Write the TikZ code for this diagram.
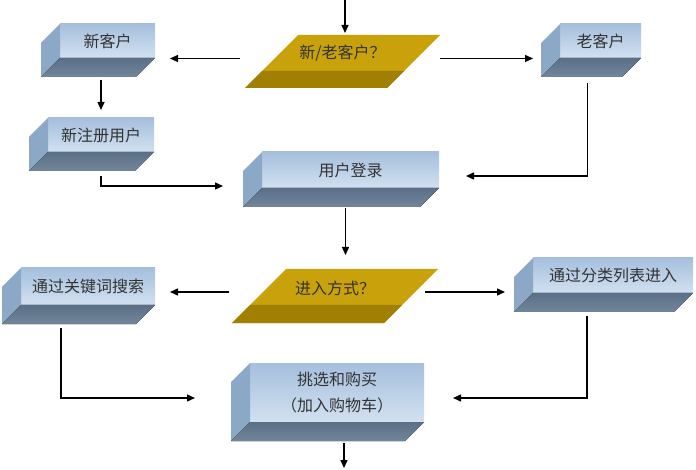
\documentclass[tikz,border=0pt]{standalone}
\usepackage{fontspec}
\newfontfamily\cjk{Noto Sans CJK SC}
\usetikzlibrary{arrows.meta}
\usepackage{xcolor}

\definecolor{faceup}{HTML}{A5BFDD}
\definecolor{facedown}{HTML}{D2E1F0}
\definecolor{sideblue}{HTML}{8CA8C7}
\definecolor{floorup}{HTML}{5B6F86}
\definecolor{floordown}{HTML}{71859B}
\definecolor{gold}{HTML}{C9A10B}
\definecolor{golddark}{HTML}{A07F02}
\definecolor{ink}{HTML}{333333}

% box with side and floor faces
\newcommand{\caixa}[5]{%
  \node[front, minimum width=#3, minimum height=#4] (#1) at (#2) {#5};
  \fill[side] (#1.north west) -- ++(-19,19) -- ([shift={(-19,19)}]#1.south west) -- (#1.south west) -- cycle;
  \fill[floor] (#1.south west) -- (#1.south east) -- ++(-19,19) -- ([shift={(-19,19)}]#1.south west) -- cycle;
}
% slanted question with darker band
\newcommand{\pergunta}[6]{%
  \node[choice, minimum width=#3, minimum height=#4] (#1) at (#2) {};
  \fill[gold] (#1.south west) -- ([xshift=-#4 pt]#1.south east) -- (#1.north east)
    -- ([xshift=#4 pt]#1.north west) -- cycle;
  \fill[band] (#1.south west) -- ([xshift=-#4 pt]#1.south east) -- ++(#5,-#5)
    -- ([shift={(#5,-#5)}]#1.south west) -- cycle;
  \node[tag] (#1t) at ([yshift=8pt]#1.center) {#6};
}

\begin{document}
\begin{tikzpicture}[x=1pt, y=-1pt,
    front/.style={rectangle, outer sep=0pt, top color=faceup, bottom color=facedown,
      text=ink, font=\cjk\fontsize{16pt}{26pt}\selectfont, align=center},
    side/.style={fill=sideblue},
    floor/.style={top color=floorup, bottom color=floordown},
    choice/.style={rectangle, outer sep=0pt, inner sep=0pt},
    band/.style={fill=golddark},
    tag/.style={text=ink, font=\cjk\fontsize{16pt}{26pt}\selectfont},
    arrow/.style={-{Triangle[length=8pt,width=7pt]}, line width=1.4pt}]
    \useasboundingbox (0,0) rectangle (696,470);

    % Pergunta 1
    \pergunta{q1}{342.5,61.5}{195}{53}{17}{新/老客户？}

    \caixa{newc}{107.5,41}{95}{34}{新客户}
    \caixa{oldc}{600.5,41}{81}{34}{老客户}
    \caixa{reg}{101,135}{106}{34}{新注册用户}
    \caixa{login}{350.5,170}{177}{36}{用户登录}

    % Pergunta 2
    \pergunta{q2}{335,296}{206}{54}{18}{进入方式？}

    \caixa{search}{88,286.5}{134}{37}{通过关键词搜索}
    \caixa{browse}{613,275.5}{160}{35}{通过分类列表进入}
    \caixa{buy}{337,392.5}{174}{59}{挑选和购买\\（加入购物车）}

    % setas
    \coordinate (start) at (345,0);
    \coordinate (stop) at (344,468);
    \draw[arrow, shorten >=2pt] (start) -- (start |- q1.north);
    \draw[arrow, shorten <=5pt, shorten >=15pt] ([yshift=3pt]q1.west) -- ([yshift=3pt]q1.west -| newc.east);
    \draw[arrow, shorten >=27pt] ([yshift=3pt]q1.east) -- ([yshift=3pt]q1.east -| oldc.west);
    \draw[arrow, shorten <=22pt, shorten >=8pt] (reg.north |- newc.south) -- (reg.north);
    \draw[arrow, shorten >=39pt] ([yshift=-24pt]reg.south) -- ([yshift=-34pt]reg.south)
      -- ([yshift=-34pt]reg.south -| login.west);
    \draw[arrow, shorten >=27pt] ([xshift=-13pt,yshift=-25pt]oldc.south) |- ([yshift=-6pt]login.east);
    \draw[arrow, shorten <=20pt, shorten >=14pt] ([xshift=-5pt]login.south) -- ([xshift=-5pt]login.south |- q2.north);
    \draw[arrow, shorten <=3pt, shorten >=15pt] ([yshift=4pt]q2.west) -- ([yshift=4pt]q2.west -| search.east);
    \draw[arrow, shorten <=-13pt, shorten >=28pt] ([yshift=4pt]q2.east) -- ([yshift=4pt]q2.east -| browse.west);
    \draw[arrow, shorten >=55pt] ([xshift=-27pt,yshift=-23pt]search.south) |- ([yshift=-5.5pt]buy.west);
    \draw[arrow, shorten >=29pt] ([xshift=-26pt,yshift=-23pt]browse.south) |- ([yshift=-5.5pt]buy.east);
    \draw[arrow, shorten <=21pt] (stop |- buy.south) -- (stop);
\end{tikzpicture}
\end{document}
